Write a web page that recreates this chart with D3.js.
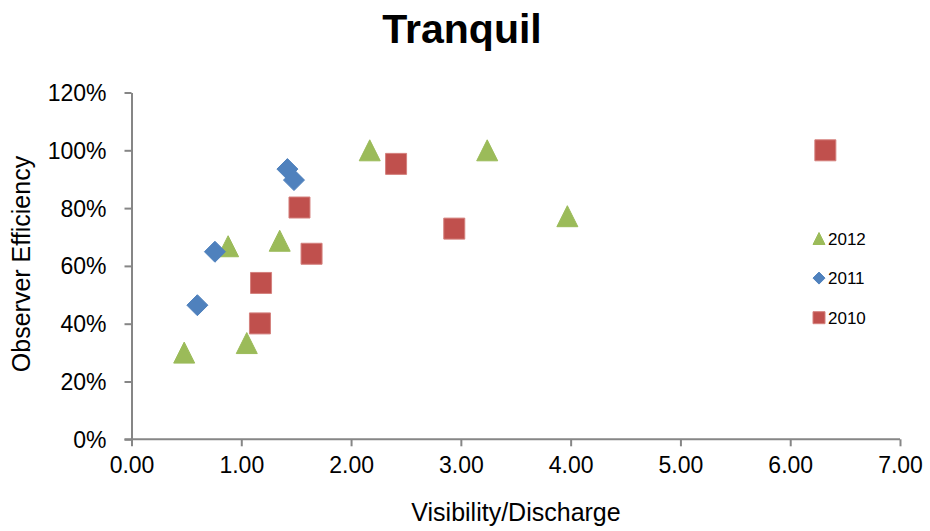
<!DOCTYPE html>
<html>
<head>
<meta charset="utf-8">
<script src="https://cdn.jsdelivr.net/npm/d3@7"></script>
<style>
    body { margin: 0; background: #fff; }
    text { font-family: "Liberation Sans", Arial, sans-serif; fill: #000; }
    .axis path, .axis line { stroke: #868686; stroke-width: 2px; }
</style>
</head>
<body>
<div id="chart"></div>
<script>

// data: visibility/discharge (x) and efficiency % (y)
var years = ["2012", "2011", "2010"];
var x2012 = [0.48, 0.88, 1.05, 1.35, 2.17, 3.24, 3.97];
var y2012 = [30.0, 66.8, 33.3, 68.7, 100, 100, 77.2];
var x2011 = [0.60, 0.76, 1.42, 1.48];
var y2011 = [46.4, 64.9, 93.5, 89.7];
var x2010 = [2.41, 2.94, 1.53, 1.64, 1.18, 1.17, 6.32];
var y2010 = [95.3, 72.9, 80.2, 64.2, 54.1, 40.1, 100];
var xticks = [0, 1, 2, 3, 4, 5, 6, 7];
var yticks = [0, 20, 40, 60, 80, 100, 120];

// core settings
var cfg = {
    w: 930, h: 531,
    left: 131.5, right: 900, top: 92.5, bottom: 439.3, // plot box
    colors: {"2012": "#9bbb59", "2011": "#4f81bd", "2010": "#c0504d"},
    strokes: {"2012": "#9bbb59", "2011": "#4f81bd", "2010": "#d4807d"},
    shapes: {"2012": "triangle", "2011": "diamond", "2010": "square"},
    msize: 21, // marker size in plot
    lsize: 12  // marker size in legend
};

// marker path centred on 0,0
function markerPath(shape, s) {
    var r = s / 2;
    if (shape === "triangle") {
        return "M0," + (-r) + "L" + r + "," + r + "L" + (-r) + "," + r + "Z";
    }
    if (shape === "diamond") {
        return "M0," + (-r) + "L" + r + ",0L0," + r + "L" + (-r) + ",0Z";
    }
    return "M" + (-r) + "," + (-r) + "H" + r + "V" + r + "H" + (-r) + "Z";
}

var series = [
    {year: "2010", xs: x2010, ys: y2010},
    {year: "2012", xs: x2012, ys: y2012},
    {year: "2011", xs: x2011, ys: y2011}
];

var svg = d3.select("#chart").append("svg")
        .attr("width", cfg.w).attr("height", cfg.h);

var xscale = d3.scaleLinear().domain([0, 7]).range([cfg.left, cfg.right]);
var yscale = d3.scaleLinear().domain([0, 120]).range([cfg.bottom, cfg.top]);

// title
svg.append("text").text("Tranquil")
        .attr("x", 462).attr("y", 43)
        .attr("text-anchor", "middle")
        .style("font-size", "41px").style("font-weight", "bold");

// y axis
var gy = svg.append("g").attr("class", "axis")
        .attr("transform", "translate(" + cfg.left + ",0)")
        .call(d3.axisLeft(yscale).tickValues(yticks).tickSize(7).tickSizeOuter(0)
                .tickFormat(function (d) { return d + "%"; }));
gy.selectAll("text").style("font-size", "23px").attr("x", -25).attr("dy", "0.35em");

// x axis
var gx = svg.append("g").attr("class", "axis")
        .attr("transform", "translate(0," + cfg.bottom + ")")
        .call(d3.axisBottom(xscale).tickValues(xticks).tickSize(7).tickSizeOuter(0)
                .tickFormat(d3.format(".2f")));
gx.selectAll("text").style("font-size", "23px").attr("y", 17).attr("dy", "0.71em");
gx.select("path.domain").attr("d", "M" + (cfg.left - 7) + ",0H" + cfg.right);
gx.selectAll("text").attr("font-family", null);
gy.selectAll("text").attr("font-family", null);

// axis titles
svg.append("text").text("Visibility/Discharge")
        .attr("x", 516).attr("y", 521).attr("text-anchor", "middle")
        .style("font-size", "25px");
svg.append("text").text("Observer Efficiency")
        .attr("transform", "translate(30,264) rotate(-90)")
        .attr("text-anchor", "middle")
        .style("font-size", "25px");

// points
series.forEach(function (s) {
    svg.append("g").selectAll("path").data(s.xs).enter().append("path")
            .attr("d", markerPath(cfg.shapes[s.year], cfg.msize))
            .attr("transform", function (d, i) {
                return "translate(" + xscale(d) + "," + yscale(s.ys[i]) + ")";
            })
            .attr("fill", cfg.colors[s.year])
            .attr("stroke", cfg.strokes[s.year]).attr("stroke-width", 1);
});

// legend
var legend = svg.append("g").selectAll("g").data(years).enter().append("g")
        .attr("transform", function (d, i) {
            return "translate(819," + (238.5 + i * 39.6) + ")";
        });
legend.append("path")
        .attr("d", function (d) { return markerPath(cfg.shapes[d], cfg.lsize); })
        .attr("fill", function (d) { return cfg.colors[d]; })
        .attr("stroke", function (d) { return cfg.strokes[d]; });
legend.append("text").text(function (d) { return d; })
        .attr("x", 9).attr("dy", "0.36em")
        .style("font-size", "17px");

</script>
</body>
</html>
